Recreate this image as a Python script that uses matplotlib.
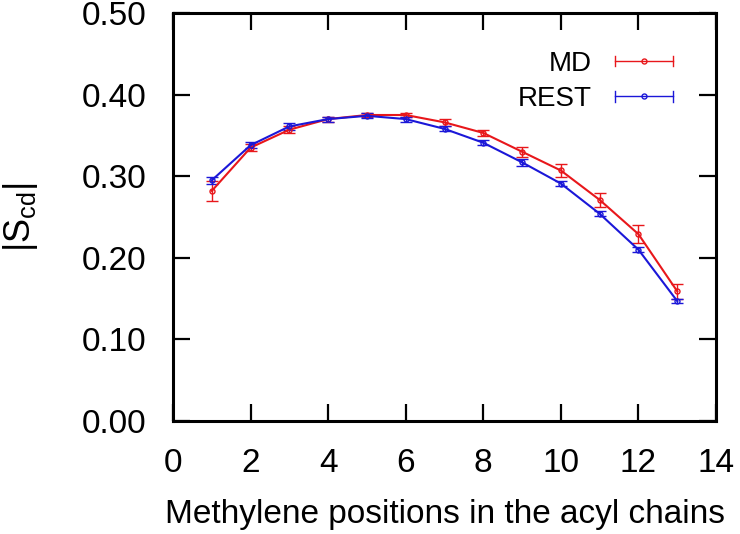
import matplotlib
matplotlib.use("Agg")
import matplotlib.pyplot as plt
from matplotlib.legend_handler import HandlerBase
from matplotlib.lines import Line2D

plt.rcParams['font.family'] = ['Liberation Sans', 'DejaVu Sans']
plt.rcParams['mathtext.fontset'] = 'custom'
plt.rcParams['mathtext.rm'] = 'Liberation Sans'
plt.rcParams['mathtext.it'] = 'Liberation Sans:italic'
plt.rcParams['mathtext.bf'] = 'Liberation Sans:bold'

positions = [1, 2, 3, 4, 5, 6, 7, 8, 9, 10, 11, 12, 13]
md_values = [0.282, 0.335, 0.357, 0.370, 0.375, 0.375, 0.366, 0.353, 0.330, 0.307, 0.271, 0.229, 0.159]
md_errors = [0.012, 0.004, 0.004, 0.003, 0.003, 0.003, 0.004, 0.004, 0.006, 0.008, 0.009, 0.011, 0.009]
rest_values = [0.295, 0.338, 0.361, 0.370, 0.374, 0.370, 0.358, 0.341, 0.317, 0.291, 0.254, 0.210, 0.147]
rest_errors = [0.004, 0.004, 0.004, 0.003, 0.003, 0.003, 0.003, 0.003, 0.004, 0.003, 0.003, 0.003, 0.003]

x_ticks = [0, 2, 4, 6, 8, 10, 12, 14]
y_ticks = [0.0, 0.1, 0.2, 0.3, 0.4, 0.5]

red = '#e8171b'
blue = '#1b17d8'

fig = plt.figure(figsize=(7.4, 5.34), dpi=100)
ax = fig.add_axes([173 / 740, (534 - 421) / 534, 543 / 740, 408 / 534])

for vals, errs, col, lab in [(md_values, md_errors, red, 'MD'), (rest_values, rest_errors, blue, 'REST')]:
    ax.errorbar(positions, vals, yerr=errs, color=col, lw=1.5, elinewidth=1.0,
                capsize=4.5, capthick=1.0, marker='o', ms=3.6, mfc='none', mec=col, mew=1.0, label=lab)


class HBar(HandlerBase):
    def __init__(self, color):
        super().__init__()
        self.color = color

    def create_artists(self, legend, orig_handle, xdescent, ydescent, width, height, fontsize, trans):
        y = height / 2 - ydescent
        x0, x1 = -xdescent, width - xdescent
        l = Line2D([x0, x1], [y, y], color=self.color, lw=1.0, transform=trans)
        c1 = Line2D([x0, x0], [y - 3.8, y + 3.8], color=self.color, lw=1.0, transform=trans)
        c2 = Line2D([x1, x1], [y - 3.8, y + 3.8], color=self.color, lw=1.0, transform=trans)
        m = Line2D([(x0 + x1) / 2], [y], color=self.color, marker='o', ms=3.6, mfc='none', mew=1.0, transform=trans)
        return [l, c1, c2, m]


h_md = Line2D([], [], color=red)
h_rest = Line2D([], [], color=blue)
ax.legend([h_md, h_rest], ['MD', 'REST'], handler_map={h_md: HBar(red), h_rest: HBar(blue)},
          loc='upper right', bbox_to_anchor=(0.921, 0.907), frameon=False, markerfirst=False,
          fontsize=20, handlelength=2.1, handletextpad=0.83, labelspacing=0.33,
          borderaxespad=0, borderpad=0)

ax.set_xlim(0, 14)
ax.set_ylim(0, 0.5)
ax.set_xticks(x_ticks)
ax.set_yticks(y_ticks)
ax.set_yticklabels([f'{v:.2f}' for v in y_ticks])
ax.tick_params(direction='in', length=12, width=1.6, labelsize=24, top=True, right=True)
ax.tick_params(axis='x', pad=19.5)
ax.tick_params(axis='y', pad=19)
for s in ax.spines.values():
    s.set_linewidth(2.2)
ax.set_xlabel('Methylene positions in the acyl chains', fontsize=24, labelpad=14)
ylab = ax.set_ylabel('|S$_{\\mathrm{cd}}$|', fontsize=26)
ax.yaxis.set_label_coords(0.5 / 740, (534 - 217) / 534, transform=fig.transFigure)
ylab.set_verticalalignment('top')
ylab.set_horizontalalignment('center')

fig.savefig('out.png', dpi=100)
